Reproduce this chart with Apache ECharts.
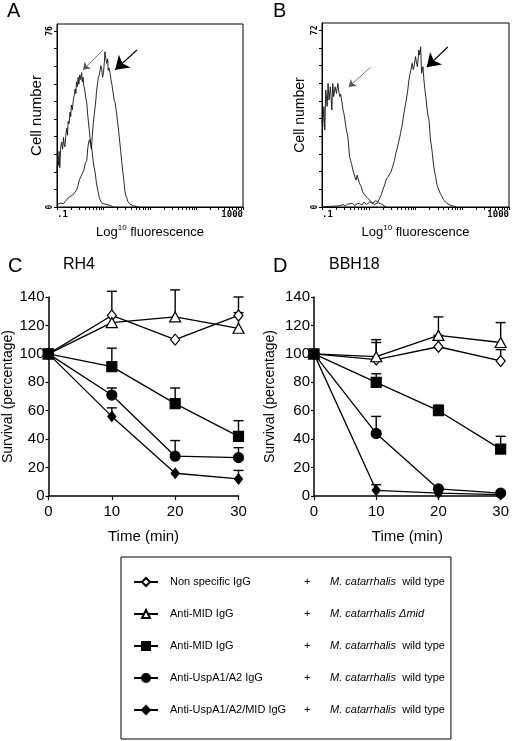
<!DOCTYPE html>
<html><head><meta charset="utf-8">
<script src="https://cdn.jsdelivr.net/npm/echarts/dist/echarts.min.js"></script>
<style>html,body{margin:0;padding:0;background:#fff}#c{width:512px;height:741px}</style>
</head><body><div id="c"></div>
<script>
// ---------- Data ----------
// Flow cytometry histograms: [log10 fluorescence, cell count]
const histA_neg = [[-1.00,15],[-0.985,22],[-0.97,18],[-0.955,24],[-0.94,17],[-0.92,26],[-0.90,28],[-0.88,25],[-0.86,30],[-0.845,27],[-0.83,26],[-0.81,31],[-0.79,34],[-0.775,31],[-0.76,37],[-0.74,36],[-0.72,41],[-0.705,39],[-0.69,44],[-0.67,42],[-0.65,46],[-0.63,48],[-0.61,51],[-0.595,49],[-0.58,54],[-0.56,52],[-0.545,56],[-0.53,53],[-0.51,57],[-0.49,55],[-0.47,58],[-0.455,54],[-0.44,56],[-0.42,52],[-0.40,50],[-0.38,47],[-0.36,45],[-0.345,41],[-0.33,38],[-0.31,34],[-0.29,30],[-0.27,27],[-0.25,25],[-0.23,21],[-0.21,18],[-0.18,15],[-0.15,10],[-0.12,7],[-0.09,4],[-0.06,2.5],[-0.03,1.6],[0.00,1.5],[0.04,1.2],[0.08,0.6],[0.12,0.8],[0.16,0.3],[0.22,0]];
const histA_pos = [[-1.00,1],[-0.96,0.5],[-0.93,1.7],[-0.89,1],[-0.86,1.4],[-0.82,2.5],[-0.78,3],[-0.74,4.3],[-0.70,4],[-0.66,5.2],[-0.62,6],[-0.58,7.3],[-0.55,9],[-0.52,11.7],[-0.49,12],[-0.45,14.7],[-0.42,16],[-0.39,19],[-0.36,20],[-0.34,25],[-0.32,28],[-0.30,29],[-0.28,27],[-0.26,25],[-0.24,31],[-0.22,36],[-0.20,40],[-0.18,43],[-0.16,47],[-0.15,50],[-0.13,53],[-0.11,56],[-0.09,57],[-0.08,58],[-0.06,61],[-0.04,60],[-0.02,56],[0.00,58],[0.02,63],[0.03,67],[0.05,64],[0.07,62],[0.09,64],[0.10,59],[0.12,60],[0.14,58],[0.16,55],[0.18,53],[0.20,50],[0.21,49],[0.23,46],[0.25,45],[0.27,42],[0.28,41],[0.30,37],[0.32,34],[0.34,30],[0.35,28],[0.37,24],[0.39,20],[0.41,16],[0.43,13],[0.45,9],[0.46,7],[0.48,5],[0.50,4],[0.52,2.5],[0.53,2],[0.57,1.2],[0.61,1],[0.65,0.5],[0.68,0.3],[0.75,0]];
const histB_neg = [[-1.00,35.5],[-0.985,32.7],[-0.96,40.9],[-0.94,31.4],[-0.92,47.7],[-0.89,41],[-0.87,50.4],[-0.85,43.6],[-0.82,49],[-0.79,39.5],[-0.77,50.4],[-0.75,45],[-0.72,49],[-0.69,46.3],[-0.66,50.4],[-0.64,47],[-0.62,45],[-0.60,46],[-0.58,43.6],[-0.55,39.5],[-0.53,38],[-0.51,35.5],[-0.48,31.4],[-0.46,30],[-0.44,27.3],[-0.41,20.5],[-0.39,19],[-0.37,17.8],[-0.34,15.1],[-0.32,14],[-0.30,12.4],[-0.27,11],[-0.25,13],[-0.23,12.4],[-0.20,9.7],[-0.16,8.3],[-0.13,6.2],[-0.09,5],[-0.05,4.2],[-0.02,3.5],[0.02,3.1],[0.05,2.2],[0.09,1.8],[0.12,1],[0.16,1.2],[0.20,1.8],[0.23,1.5],[0.27,1.2],[0.30,0.8],[0.34,0.4],[0.37,0.1]];
const histB_pos = [[-1.00,0],[-0.80,0.3],[-0.62,0.5],[-0.55,1.0],[-0.50,0.4],[-0.45,1.2],[-0.41,0.8],[-0.35,1.5],[-0.30,0.6],[-0.25,1.3],[-0.20,1.5],[-0.15,0.8],[-0.10,2],[-0.05,1],[0.02,2],[0.08,1.5],[0.14,2.5],[0.20,2.2],[0.23,3.5],[0.27,5],[0.30,7],[0.34,9],[0.37,11],[0.40,12],[0.44,12.4],[0.47,14],[0.51,16.4],[0.55,19],[0.58,21.9],[0.61,24],[0.65,27.3],[0.68,30],[0.72,34],[0.75,38],[0.79,42.3],[0.83,47],[0.86,51.8],[0.88,54],[0.90,55.8],[0.93,58.6],[0.95,56],[0.97,57.2],[1.00,61.3],[1.02,59],[1.04,57.2],[1.06,61],[1.07,64],[1.09,62],[1.11,65.3],[1.13,54.5],[1.16,57.2],[1.18,51.8],[1.20,48],[1.22,45],[1.25,39.5],[1.27,37],[1.29,35.5],[1.32,27.3],[1.34,25],[1.36,21.9],[1.39,16.4],[1.43,12.4],[1.46,9],[1.50,7],[1.53,5.5],[1.57,4.2],[1.60,3],[1.64,2.2],[1.67,1.5],[1.71,1.2],[1.76,0.6],[1.81,0.4],[1.87,0]];
const histXTickValues = [-1, 3];
const histXTickLabels = ['.1', '1000'];
const histAYLabels = [0, 76];
const histBYLabels = [0, 72];
// Arrows [from, to] in data units
const arrowsA = { thin: [[-0.01,67.8],[-0.44,59.2]], thick: [[0.72,67.8],[0.25,59.2]] };
const arrowsB = { thin: [[0.04,57],[-0.43,48.9]], thick: [[1.69,65.2],[1.24,57]] };

// Survival time courses
const timePoints = [0, 10, 20, 30];
const seriesNames = ['Non specific IgG + wild type', 'Anti-MID IgG + Δmid', 'Anti-MID IgG + wild type', 'Anti-UspA1/A2 IgG + wild type', 'Anti-UspA1/A2/MID IgG + wild type'];
const legendLabels = ['Non specific IgG', 'Anti-MID IgG', 'Anti-MID IgG', 'Anti-UspA1/A2 IgG', 'Anti-UspA1/A2/MID IgG'];
const legendStrains = ['M. catarrhalis', 'M. catarrhalis Δmid', 'M. catarrhalis', 'M. catarrhalis', 'M. catarrhalis'];
const legendSuffix = ['  wild type', '', '  wild type', '  wild type', '  wild type'];

const rh4Values = [
  [100, 127, 110, 127],
  [100, 122, 126, 118],
  [100, 91, 65, 42],
  [100, 71, 28, 27],
  [100, 56, 16, 12]
];
const rh4ErrUpper = [
  [null, 144, null, 129],
  [null, null, 145, 140],
  [null, 104, 76, 53],
  [null, 76, 39, 34],
  [null, 62, null, 18]
];
const bbh18Values = [
  [100, 96, 105, 95],
  [100, 98, 113, 108],
  [100, 80, 60, 33],
  [100, 44, 5, 2],
  [100, 4, 2, 1]
];
const bbh18ErrUpper = [
  [null, 108, 113, 103],
  [null, 110, 126, 122],
  [null, 86, 64, 42],
  [null, 56, null, null],
  [null, 8, null, null]
];

// ---------- Styles ----------
const FONT = 'Liberation Sans, Arial, sans-serif';
const symbolStyles = [
  { symbol: 'diamond', size: [9, 11], fill: '#fff' },
  { symbol: 'triangle', size: [11, 10], fill: '#fff' },
  { symbol: 'rect', size: 10, fill: '#000' },
  { symbol: 'circle', size: 10, fill: '#000' },
  { symbol: 'diamond', size: [8, 10], fill: '#000' }
];
const zOrder = [3, 3, 6, 4, 4];

const minorTicks = [];
for (let n = -1; n < 3; n++) for (let k = 1; k < 10; k++) minorTicks.push(n + Math.log10(k));
minorTicks.push(3);
function yTicks(max, step) { const a = []; for (let v = 0; v <= max + 1e-9; v += step) a.push(v); return a; }

function histXAxis(gi) {
  return {
    gridIndex: gi, type: 'value', min: -1, max: 3,
    axisLine: { show: true, onZero: false, lineStyle: { color: '#000', width: 1 } },
    axisTick: { show: true, customValues: minorTicks, length: 3, lineStyle: { color: '#000' } },
    axisLabel: {
      customValues: histXTickValues,
      formatter: v => histXTickLabels[histXTickValues.indexOf(v)] || '',
      alignMinLabel: 'left', alignMaxLabel: 'right',
      fontFamily: 'DejaVu Sans Mono', fontWeight: 'bold', fontSize: 9, color: '#000', margin: 3
    },
    splitLine: { show: false },
    name: '{n|Log}{s|10}{n| fluorescence}', nameLocation: 'middle', nameGap: 17,
    nameTextStyle: { rich: { n: { fontSize: 13, fontFamily: FONT, color: '#000', lineHeight: 16 }, s: { fontSize: 8, fontFamily: FONT, color: '#000', verticalAlign: 'top', lineHeight: 16, padding: [0, 0, 5, 0] } } }
  };
}
function histYAxis(gi, max, labels, step, gap, fs) {
  return {
    gridIndex: gi, type: 'value', min: 0, max: max,
    axisLine: { show: true, onZero: false, lineStyle: { color: '#000', width: 1 } },
    axisTick: { show: true, customValues: yTicks(labels[1], step), length: 3, lineStyle: { color: '#000' } },
    axisLabel: { customValues: labels, rotate: 90, fontFamily: 'DejaVu Sans Mono', fontWeight: 'bold', fontSize: 8, color: '#000', margin: 3 },
    splitLine: { show: false },
    name: 'Cell number', nameLocation: 'middle', nameGap: gap,
    nameTextStyle: { fontSize: fs, fontFamily: FONT, color: '#000' }
  };
}
function survXAxis(gi) {
  return {
    gridIndex: gi, type: 'value', min: 0, max: 30, interval: 10,
    axisLine: { show: true, onZero: false, lineStyle: { color: '#000', width: 1.5 } },
    axisTick: { show: true, length: 4, lineStyle: { color: '#000', width: 1.2 } },
    axisLabel: { fontSize: 15, fontFamily: FONT, color: '#000', margin: 8 },
    splitLine: { show: false },
    name: 'Time (min)', nameLocation: 'middle', nameGap: 33,
    nameTextStyle: { fontSize: 15, fontFamily: FONT, color: '#000' }
  };
}
function survYAxis(gi, gap) {
  return {
    gridIndex: gi, type: 'value', min: 0, max: 140, interval: 20,
    axisLine: { show: true, onZero: false, lineStyle: { color: '#000', width: 1.5 } },
    axisTick: { show: true, length: 3, lineStyle: { color: '#000', width: 1.2 } },
    axisLabel: { fontSize: 15, fontFamily: FONT, color: '#000', margin: 4 },
    splitLine: { show: false },
    name: 'Survival (percentage)', nameLocation: 'middle', nameGap: gap,
    nameTextStyle: { fontSize: 14, fontFamily: FONT, color: '#000' }
  };
}
function arrowMarkLine(seg, width, size, color) {
  return {
    silent: true, animation: false,
    symbol: ['none', 'arrow'], symbolSize: size,
    lineStyle: { type: 'solid', color: color, width: width },
    label: { show: false },
    data: [[{ coord: seg[0] }, { coord: seg[1] }]]
  };
}
function histSeries(data, gi, arrow, w, s, col) {
  return {
    type: 'line', xAxisIndex: gi, yAxisIndex: gi, data: data, showSymbol: false, symbol: 'none',
    lineStyle: { color: '#111', width: 0.9 }, z: 2,
    markLine: arrowMarkLine(arrow, w, s, col)
  };
}
function errorRender(params, api) {
  const x = api.value(0), y = api.value(1), u = api.value(2);
  const p0 = api.coord([x, y]), p1 = api.coord([x, u]);
  return {
    type: 'group', children: [
      { type: 'line', shape: { x1: p0[0], y1: p0[1], x2: p1[0], y2: p1[1] }, style: { stroke: '#000', lineWidth: 1.4 } },
      { type: 'line', shape: { x1: p1[0] - 5, y1: p1[1], x2: p1[0] + 5, y2: p1[1] }, style: { stroke: '#000', lineWidth: 1.4 } }
    ]
  };
}
function survSeries(values, errs, gi) {
  const out = [];
  values.forEach((vals, i) => {
    const errData = [];
    timePoints.forEach((t, j) => { if (errs[i][j] != null) errData.push([t, vals[j], errs[i][j]]); });
    out.push({
      type: 'custom', xAxisIndex: gi, yAxisIndex: gi, data: errData, renderItem: errorRender, z: 1, silent: true
    });
  });
  values.forEach((vals, i) => {
    const st = symbolStyles[i];
    out.push({
      type: 'line', name: seriesNames[i], xAxisIndex: gi, yAxisIndex: gi,
      data: timePoints.map((t, j) => [t, vals[j]]),
      symbol: st.symbol, symbolSize: st.size, showSymbol: true,
      itemStyle: { color: st.fill, borderColor: '#000', borderWidth: 1.2 },
      lineStyle: { color: '#000', width: 1.3 }, z: zOrder[i]
    });
  });
  return out;
}

const option = {
  animation: false,
  backgroundColor: '#fff',
  textStyle: { fontFamily: FONT },
  grid: [
    { left: 57, top: 24, width: 186, height: 183, show: true, borderColor: '#000', borderWidth: 1, backgroundColor: 'transparent' },
    { left: 322, top: 23, width: 189, height: 184, show: true, borderColor: '#000', borderWidth: 1, backgroundColor: 'transparent' },
    { left: 48.5, top: 297, width: 190, height: 199 },
    { left: 314, top: 297, width: 189, height: 199 }
  ],
  xAxis: [histXAxis(0), histXAxis(1), survXAxis(2), survXAxis(3)],
  yAxis: [
    histYAxis(0, 79, histAYLabels, 7.6, 13, 15),
    histYAxis(1, 75, histBYLabels, 7.2, 15, 14),
    survYAxis(2, 33),
    survYAxis(3, 37)
  ],
  legend: {
    orient: 'vertical', left: 121, top: 557,
    padding: [18, 6, 22, 12], itemGap: 18,
    borderColor: '#000', borderWidth: 1,
    itemWidth: 24, itemHeight: 10,
    data: seriesNames,
    formatter: name => {
      const i = seriesNames.indexOf(name);
      return '{a|' + legendLabels[i] + '}{b|+}{c|' + legendStrains[i] + '}{d|' + legendSuffix[i] + '}';
    },
    textStyle: {
      fontFamily: FONT, fontSize: 11, color: '#000', lineHeight: 14,
      rich: {
        a: { fontSize: 11, fontFamily: FONT, width: 134, padding: [0, 0, 0, 7], color: '#000' },
        b: { fontSize: 11, fontFamily: FONT, width: 26, color: '#000' },
        c: { fontSize: 11, fontFamily: FONT, fontStyle: 'italic', color: '#000' },
        d: { fontSize: 11, fontFamily: FONT, color: '#000' }
      }
    }
  },
  graphic: [
    { type: 'text', left: 7, top: 1, style: { text: 'A', font: '20px ' + FONT, fill: '#000' } },
    { type: 'text', left: 273, top: 1, style: { text: 'B', font: '20px ' + FONT, fill: '#000' } },
    { type: 'text', left: 8, top: 256, style: { text: 'C', font: '20px ' + FONT, fill: '#000' } },
    { type: 'text', left: 63, top: 257, style: { text: 'RH4', font: '16px ' + FONT, fill: '#000' } },
    { type: 'text', left: 273, top: 256, style: { text: 'D', font: '20px ' + FONT, fill: '#000' } },
    { type: 'text', left: 329, top: 257, style: { text: 'BBH18', font: '16px ' + FONT, fill: '#000' } }
  ],
  series: [
    histSeries(histA_neg, 0, arrowsA.thin, 0.8, 7, '#555'),
    histSeries(histA_pos, 0, arrowsA.thick, 1.2, 13, '#000'),
    histSeries(histB_neg, 1, arrowsB.thin, 0.8, 7, '#555'),
    histSeries(histB_pos, 1, arrowsB.thick, 1.2, 13, '#000'),
    ...survSeries(rh4Values, rh4ErrUpper, 2),
    ...survSeries(bbh18Values, bbh18ErrUpper, 3)
  ]
};
const chart = echarts.init(document.getElementById('c'), null, { renderer: 'canvas' });
chart.setOption(option);
</script></body></html>
